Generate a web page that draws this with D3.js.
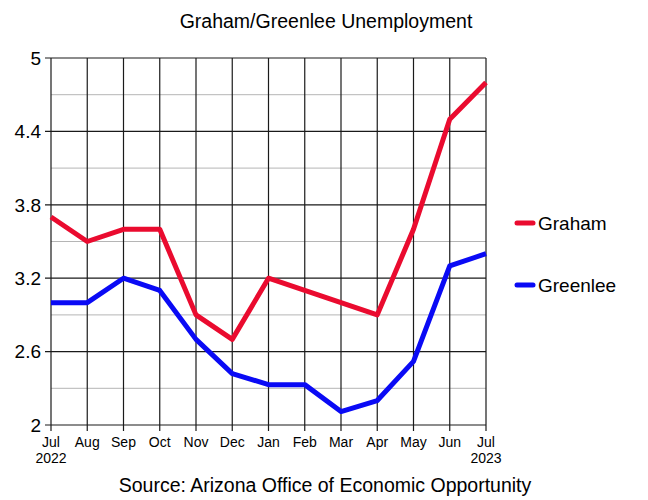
<!DOCTYPE html>
<html>
<head>
<meta charset="utf-8">
<script src="https://cdn.jsdelivr.net/npm/d3@7"></script>
<style>
  body { margin: 0; background: #fff; }
  text { font-family: "Liberation Sans", Arial, sans-serif; fill: #000; }
</style>
</head>
<body>
<div class="chart"></div>
<script>
var width = 648,
  height = 500,
  margin = {top: 58, right: 162, bottom: 75, left: 51};

var months = ['Jul', 'Aug', 'Sep', 'Oct', 'Nov', 'Dec', 'Jan', 'Feb', 'Mar', 'Apr', 'May', 'Jun', 'Jul'];
var yearLabels = ['2022', '', '', '', '', '', '', '', '', '', '', '', '2023'];
var graham = [3.7, 3.5, 3.6, 3.6, 2.9, 2.7, 3.2, 3.1, 3.0, 2.9, 3.6, 4.5, 4.8];
var greenlee = [3.0, 3.0, 3.2, 3.1, 2.7, 2.42, 2.33, 2.33, 2.11, 2.2, 2.52, 3.3, 3.4];
var yTicks = [2, 2.6, 3.2, 3.8, 4.4, 5];
var yMinor = [2.3, 2.9, 3.5, 4.1, 4.7];
var seriesNames = ['Graham', 'Greenlee'];
var seriesColors = ['#ea0b2f', '#0a0af5'];

var svg = d3.select('.chart')
  .append('svg')
  .attr('width', width)
  .attr('height', height);

var plotW = width - margin.left - margin.right,
  plotH = height - margin.top - margin.bottom;

var xScale = d3.scaleLinear()
  .domain([0, months.length - 1])
  .range([margin.left, margin.left + plotW]);

var yScale = d3.scaleLinear()
  .domain([2, 5])
  .range([margin.top + plotH, margin.top]);

// minor horizontal grid
svg.append('g')
  .selectAll('line')
  .data(yMinor)
  .enter()
  .append('line')
  .attr('x1', margin.left)
  .attr('x2', margin.left + plotW)
  .attr('y1', function (d) { return yScale(d); })
  .attr('y2', function (d) { return yScale(d); })
  .attr('stroke', '#b5b5b5')
  .attr('stroke-width', 1);

// major horizontal grid
svg.append('g')
  .selectAll('line')
  .data(yTicks)
  .enter()
  .append('line')
  .attr('x1', margin.left - 6)
  .attr('x2', margin.left + plotW)
  .attr('y1', function (d) { return yScale(d); })
  .attr('y2', function (d) { return yScale(d); })
  .attr('stroke', '#1a1a1a')
  .attr('stroke-width', 1.2);

// vertical grid
svg.append('g')
  .selectAll('line')
  .data(months)
  .enter()
  .append('line')
  .attr('x1', function (d, i) { return xScale(i); })
  .attr('x2', function (d, i) { return xScale(i); })
  .attr('y1', margin.top)
  .attr('y2', margin.top + plotH + 6)
  .attr('stroke', '#1a1a1a')
  .attr('stroke-width', 1.2);

// y labels
svg.append('g')
  .selectAll('text')
  .data(yTicks)
  .enter()
  .append('text')
  .attr('x', margin.left - 10)
  .attr('y', function (d) { return yScale(d); })
  .attr('dy', '0.36em')
  .attr('text-anchor', 'end')
  .attr('font-size', 19)
  .text(function (d) { return d; });

// x labels
svg.append('g')
  .selectAll('text')
  .data(months)
  .enter()
  .append('text')
  .attr('x', function (d, i) { return xScale(i); })
  .attr('y', margin.top + plotH + 22)
  .attr('text-anchor', 'middle')
  .attr('font-size', 14)
  .text(function (d) { return d; });

svg.append('g')
  .selectAll('text')
  .data(yearLabels)
  .enter()
  .append('text')
  .attr('x', function (d, i) { return xScale(i); })
  .attr('y', margin.top + plotH + 38)
  .attr('text-anchor', 'middle')
  .attr('font-size', 14)
  .text(function (d) { return d; });

//Define line generator
var line = d3.line()
  .x(function (d, i) { return xScale(i); })
  .y(function (d) { return yScale(d); });

svg.selectAll('path.series')
  .data([graham, greenlee])
  .enter()
  .append('path')
  .attr('class', 'series')
  .attr('d', line)
  .attr('fill', 'none')
  .attr('stroke', function (d, i) { return seriesColors[i]; })
  .attr('stroke-width', 5)
  .attr('stroke-linejoin', 'round');

// legend
var legend = svg.selectAll('g.legend')
  .data(seriesNames)
  .enter()
  .append('g')
  .attr('class', 'legend')
  .attr('transform', function (d, i) { return 'translate(517,' + (223 + i * 62) + ')'; });

legend.append('line')
  .attr('x1', 0)
  .attr('x2', 16)
  .attr('stroke', function (d, i) { return seriesColors[i]; })
  .attr('stroke-width', 5)
  .attr('stroke-linecap', 'round');

legend.append('text')
  .attr('x', 21)
  .attr('dy', '0.36em')
  .attr('font-size', 19)
  .text(function (d) { return d; });

// title and source
svg.append('text')
  .attr('x', 326)
  .attr('y', 28)
  .attr('text-anchor', 'middle')
  .attr('font-size', 19.5)
  .text('Graham/Greenlee Unemployment');

svg.append('text')
  .attr('x', 325)
  .attr('y', 492)
  .attr('text-anchor', 'middle')
  .attr('font-size', 19.5)
  .text('Source: Arizona Office of Economic Opportunity');
</script>
</body>
</html>
